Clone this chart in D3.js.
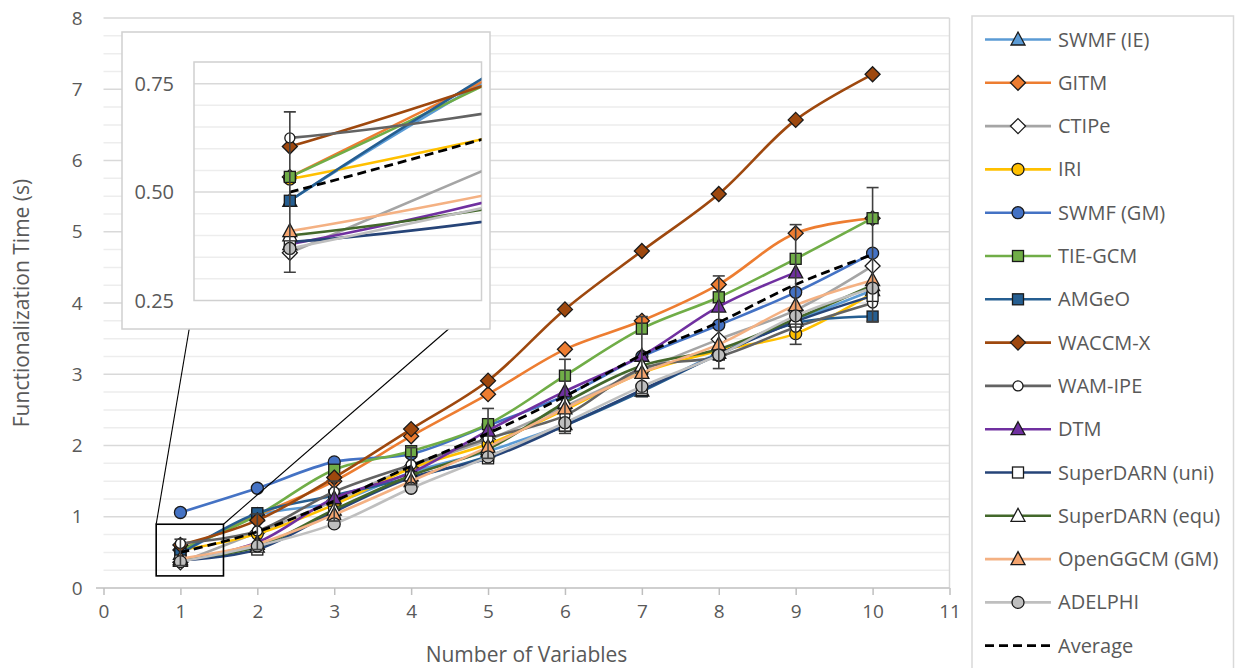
<!DOCTYPE html>
<html><head><meta charset="utf-8">
<script src="https://cdn.jsdelivr.net/npm/d3@7"></script>
<style>
html,body{margin:0;padding:0;background:#fff;}
svg{display:block;font-family:"Open Sans",sans-serif;}
</style></head>
<body>
<svg id="chart" width="1235" height="668"></svg>
<script>
// ---------------- data ----------------
const xValues = [1,2,3,4,5,6,7,8,9,10];
const seriesNames = ["SWMF (IE)","GITM","CTIPe","IRI","SWMF (GM)","TIE-GCM","AMGeO","WACCM-X","WAM-IPE","DTM","SuperDARN (uni)","SuperDARN (equ)","OpenGGCM (GM)","ADELPHI"];
const swmfIE     = [0.48,1.02,1.20,1.62,1.92,2.30,2.77,3.30,3.75,4.18];
const gitm       = [0.535,1.02,1.50,2.13,2.72,3.35,3.75,4.26,4.98,5.19];
const ctipe      = [0.36,0.78,1.22,1.70,2.08,2.55,3.05,3.49,3.90,4.52];
const iri        = [0.53,0.76,1.17,1.68,2.02,2.50,3.02,3.33,3.57,4.14];
const swmfGM     = [1.06,1.40,1.77,1.88,2.28,2.70,3.25,3.69,4.15,4.70];
const tiegcm     = [0.535,1.02,1.66,1.92,2.30,2.98,3.64,4.08,4.62,5.19];
const amgeo      = [0.48,1.05,1.30,1.55,1.85,2.28,2.76,3.28,3.72,3.81];
const waccmx     = [0.605,0.95,1.55,2.23,2.91,3.91,4.73,5.53,6.57,7.21];
const wamipe     = [0.625,0.80,1.35,1.73,2.10,2.42,3.08,3.25,3.66,4.00];
const dtm        = [0.38,0.64,1.26,1.62,2.21,2.76,3.26,3.95,4.43,null];
const sdUni      = [0.385,0.54,1.07,1.55,1.82,2.28,2.78,3.28,3.74,4.10];
const sdEqu      = [0.40,0.58,1.10,1.58,1.95,2.60,3.12,3.35,3.78,4.25];
const openggcm   = [0.41,0.62,1.03,1.50,1.98,2.52,3.02,3.42,3.97,4.32];
const adelphi    = [0.37,0.59,0.90,1.40,1.84,2.32,2.83,3.27,3.82,4.21];
const average    = [0.50,0.79,1.22,1.71,2.17,2.69,3.27,3.73,4.26,4.68];
const averageErr = [0.185,0.25,0.28,0.26,0.35,0.52,0.54,0.65,0.84,0.94];
const seriesValues = [swmfIE,gitm,ctipe,iri,swmfGM,tiegcm,amgeo,waccmx,wamipe,dtm,sdUni,sdEqu,openggcm,adelphi];
const yTicks = [0,1,2,3,4,5,6,7,8];
const xTicks = [0,1,2,3,4,5,6,7,8,9,10,11];
const insetTicks = [0.25,0.50,0.75];

// ---------------- styles ----------------
const styles = [
  {line:"#5B9BD5", shape:"triangle", fill:"#5B9BD5"},
  {line:"#ED7D31", shape:"diamond",  fill:"#ED7D31"},
  {line:"#A5A5A5", shape:"diamond",  fill:"#ffffff"},
  {line:"#FFC000", shape:"circle",   fill:"#FFC000"},
  {line:"#4472C4", shape:"circle",   fill:"#4472C4"},
  {line:"#70AD47", shape:"square",   fill:"#70AD47"},
  {line:"#255E91", shape:"square",   fill:"#255E91"},
  {line:"#9E480E", shape:"diamond",  fill:"#9E480E"},
  {line:"#636363", shape:"circleS",  fill:"#ffffff"},
  {line:"#7030A0", shape:"triangle", fill:"#7030A0"},
  {line:"#264478", shape:"square",   fill:"#ffffff"},
  {line:"#43682B", shape:"triangle", fill:"#ffffff"},
  {line:"#F4B183", shape:"triangle", fill:"#F4A46E"},
  {line:"#BFBFBF", shape:"circle",   fill:"#BFBFBF"}
];
const series = seriesNames.map((n,i)=>({name:n, values:seriesValues[i], style:styles[i]}));

const svg = d3.select("#chart");
const textColor = "#595959";
const FS = 19;
const LFS = 20;
const TFS = 21;

// ---------------- scales ----------------
const x = d3.scaleLinear().domain([0,11]).range([103.5,949.5]);
const y = d3.scaleLinear().domain([0,8]).range([588,18]);

// gridlines
const gMain = svg.append("g");
gMain.selectAll("line.minor").data(d3.range(0,8.001,0.25).filter(v=>Math.abs(v-Math.round(v))>1e-6))
  .join("line").attr("x1",x(0)).attr("x2",x(11)).attr("y1",d=>y(d)).attr("y2",d=>y(d))
  .attr("stroke","#ededed").attr("stroke-width",1.5);
gMain.selectAll("line.major").data(yTicks.slice(1))
  .join("line").attr("x1",x(0)).attr("x2",x(11)).attr("y1",d=>y(d)).attr("y2",d=>y(d))
  .attr("stroke","#d9d9d9").attr("stroke-width",1.5);
gMain.append("line").attr("x1",x(11)).attr("x2",x(11)).attr("y1",y(8)).attr("y2",y(0))
  .attr("stroke","#d9d9d9").attr("stroke-width",1.5);

// x axis
const xAxis = d3.axisBottom(x).tickValues(xTicks).tickSize(7).tickPadding(10).tickFormat(d3.format("d"));
const gx = svg.append("g").attr("transform",`translate(0,${y(0)})`).call(xAxis);
gx.select(".domain").attr("d",`M96,0H${x(11)}`).attr("stroke","#bfbfbf").attr("stroke-width",1.5);
gx.selectAll(".tick line").attr("stroke","#bfbfbf").attr("stroke-width",1.5);
gx.selectAll(".tick text").attr("fill",textColor).attr("font-size",FS).attr("font-family","Open Sans");
// y axis
const yAxis = d3.axisLeft(y).tickValues(yTicks).tickSize(0).tickPadding(21).tickFormat(d3.format("d"));
const gy = svg.append("g").attr("transform",`translate(${x(0)},0)`).call(yAxis);
gy.select(".domain").remove();
gy.selectAll(".tick text").attr("fill",textColor).attr("font-size",FS).attr("font-family","Open Sans");

// axis titles
svg.append("text").attr("x",(x(0)+x(11))/2).attr("y",662).attr("text-anchor","middle")
  .attr("fill",textColor).attr("font-size",TFS).text("Number of Variables");
svg.append("text").attr("transform",`translate(29,${(y(0)+y(8))/2}) rotate(-90)`).attr("text-anchor","middle")
  .attr("fill",textColor).attr("font-size",TFS).text("Functionalization Time (s)");

// ---------------- markers ----------------
function marker(g, shape, cx, cy, fill){
  const st = "#1a1a1a", sw = 1.3;
  if(shape==="circle"||shape==="circleS"){
    g.append("circle").attr("cx",cx).attr("cy",cy).attr("r",shape==="circle"?6:5)
      .attr("fill",fill).attr("stroke",st).attr("stroke-width",sw);
  } else if(shape==="square"){
    g.append("rect").attr("x",cx-5.5).attr("y",cy-5.5).attr("width",11).attr("height",11)
      .attr("fill",fill).attr("stroke",st).attr("stroke-width",sw);
  } else if(shape==="diamond"){
    g.append("path").attr("d",`M${cx},${cy-7.5}L${cx+7.5},${cy}L${cx},${cy+7.5}L${cx-7.5},${cy}Z`)
      .attr("fill",fill).attr("stroke",st).attr("stroke-width",sw);
  } else if(shape==="triangle"){
    g.append("path").attr("d",`M${cx},${cy-7.5}L${cx+7},${cy+5.5}L${cx-7},${cy+5.5}Z`)
      .attr("fill",fill).attr("stroke",st).attr("stroke-width",sw);
  }
}

function drawSeries(g, xs, ys, xDomainFilter){
  const line = d3.line().defined(d=>d[1]!==null).x(d=>xs(d[0])).y(d=>ys(d[1]))
    .curve(d3.curveCatmullRom.alpha(0.5));
  series.forEach(s=>{
    const pts = xValues.map((xv,i)=>[xv,s.values[i]]);
    g.append("path").attr("d",line(pts)).attr("fill","none")
      .attr("stroke",s.style.line).attr("stroke-width",2.6);
    const mg = g.append("g");
    pts.filter(p=>p[1]!==null && xDomainFilter(p[0])).forEach(p=>marker(mg,s.style.shape,xs(p[0]),ys(p[1]),s.style.fill));
  });
  const apts = xValues.map((xv,i)=>[xv,average[i]]);
  g.append("path").attr("d",line(apts)).attr("fill","none").attr("stroke","#000")
    .attr("stroke-width",2.8).attr("stroke-dasharray","9,5");
  const eg = g.append("g");
  apts.forEach((p,i)=>{
    if(!xDomainFilter(p[0])) return;
    const px = xs(p[0]), yt = ys(p[1]+averageErr[i]), yb = ys(p[1]-averageErr[i]);
    eg.append("line").attr("x1",px).attr("x2",px).attr("y1",yt).attr("y2",yb).attr("stroke","#404040").attr("stroke-width",1.6);
    eg.append("line").attr("x1",px-6).attr("x2",px+6).attr("y1",yt).attr("y2",yt).attr("stroke","#404040").attr("stroke-width",1.6);
    eg.append("line").attr("x1",px-6).attr("x2",px+6).attr("y1",yb).attr("y2",yb).attr("stroke","#404040").attr("stroke-width",1.6);
  });
}

drawSeries(svg.append("g"), x, y, ()=>true);

// ---------------- zoom box & connectors ----------------
const zoomBox = {x0:0.685, x1:1.56, y0:0.17, y1:0.895};
const zb = {l:x(zoomBox.x0), r:x(zoomBox.x1), t:y(zoomBox.y1), b:y(zoomBox.y0)};
svg.append("rect").attr("x",zb.l).attr("y",zb.t).attr("width",zb.r-zb.l).attr("height",zb.b-zb.t)
  .attr("fill","none").attr("stroke","#000").attr("stroke-width",1.6);

// ---------------- inset ----------------
const xi = d3.scaleLinear().domain([0.775,1.45]).range([194,481.5]);
const yi = d3.scaleLinear().domain([0.25,0.80]).range([300.5,62]);
svg.append("line").attr("x1",zb.l).attr("y1",zb.t).attr("x2",xi.range()[0]).attr("y2",yi(0.25)).attr("stroke","#000").attr("stroke-width",1.1);
svg.append("line").attr("x1",zb.r).attr("y1",zb.t).attr("x2",xi.range()[1]).attr("y2",yi(0.25)).attr("stroke","#000").attr("stroke-width",1.1);

const ig = svg.append("g");
ig.append("rect").attr("x",122).attr("y",32).attr("width",368).attr("height",297)
  .attr("fill","#fff").attr("stroke","#d0d0d0").attr("stroke-width",1.5);
ig.selectAll("line.iminor").data(d3.range(0.30,0.80,0.05).filter(v=>Math.abs(v*4-Math.round(v*4))>1e-6))
  .join("line").attr("x1",xi.range()[0]).attr("x2",xi.range()[1]).attr("y1",d=>yi(d)).attr("y2",d=>yi(d))
  .attr("stroke","#ededed").attr("stroke-width",1.5);
ig.selectAll("line.imajor").data([0.5,0.75])
  .join("line").attr("x1",xi.range()[0]).attr("x2",xi.range()[1]).attr("y1",d=>yi(d)).attr("y2",d=>yi(d))
  .attr("stroke","#d9d9d9").attr("stroke-width",1.5);
ig.append("rect").attr("x",xi.range()[0]).attr("y",yi(0.8)).attr("width",xi.range()[1]-xi.range()[0])
  .attr("height",yi(0.25)-yi(0.8)).attr("fill","none").attr("stroke","#d0d0d0").attr("stroke-width",1.5);
ig.selectAll("text.il").data(insetTicks).join("text")
  .attr("x",174).attr("y",d=>yi(d)).attr("dy","0.35em").attr("text-anchor","end")
  .attr("fill",textColor).attr("font-size",LFS).text(d=>d3.format(".2f")(d));
svg.append("defs").append("clipPath").attr("id","insetClip").append("rect")
  .attr("x",xi.range()[0]).attr("y",yi(0.8)).attr("width",xi.range()[1]-xi.range()[0]).attr("height",yi(0.25)-yi(0.8));
drawSeries(ig.append("g").attr("clip-path","url(#insetClip)"), xi, yi, v=>v>=0.775&&v<=1.45);

// ---------------- legend ----------------
const lg = svg.append("g");
lg.append("rect").attr("x",972).attr("y",16).attr("width",261.5).attr("height",670)
  .attr("fill","#fff").attr("stroke","#d9d9d9").attr("stroke-width",1.5);
const legendItems = series.concat([{name:"Average", avg:true}]);
legendItems.forEach((s,i)=>{
  const cy = 39.5 + i*43.3;
  if(s.avg){
    lg.append("line").attr("x1",985).attr("x2",1051).attr("y1",cy).attr("y2",cy)
      .attr("stroke","#000").attr("stroke-width",2.8).attr("stroke-dasharray","9,5");
  } else {
    lg.append("line").attr("x1",985).attr("x2",1051).attr("y1",cy).attr("y2",cy)
      .attr("stroke",s.style.line).attr("stroke-width",2.6);
    marker(lg,s.style.shape,1018,cy,s.style.fill);
  }
  lg.append("text").attr("x",1058).attr("y",cy).attr("dy","0.35em")
    .attr("fill",textColor).attr("font-size",LFS).text(s.name);
});
</script>
</body></html>
